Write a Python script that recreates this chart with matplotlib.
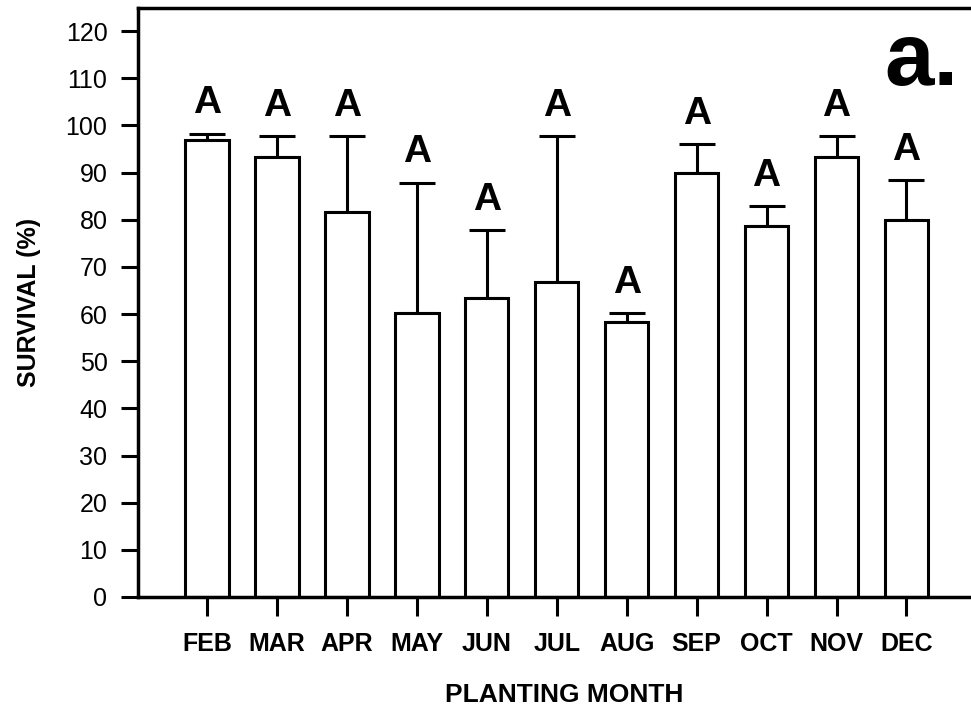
import matplotlib
matplotlib.use("Agg")
import matplotlib.pyplot as plt
import numpy as np

months = ["FEB", "MAR", "APR", "MAY", "JUN", "JUL", "AUG", "SEP", "OCT", "NOV", "DEC"]
survival = [97.0, 93.4, 81.7, 60.2, 63.4, 66.8, 58.3, 90.0, 78.6, 93.4, 79.9]
upper_err = [1.2, 4.3, 16.0, 27.6, 14.4, 30.9, 1.9, 6.0, 4.3, 4.3, 8.5]
letters = ["A"] * 11
y_ticks = list(range(0, 121, 10))

plt.rcParams['font.family'] = ['Liberation Sans', 'DejaVu Sans']

fig = plt.figure(figsize=(9.71, 7.13), dpi=100)
ax = fig.add_axes([138/971, 1-597/713, 1-138/971 + 0.02, (597-8)/713])

x = np.arange(len(months))
ax.bar(x, survival, width=0.62, color='white', edgecolor='black', linewidth=2.2, zorder=2)
ax.errorbar(x, survival, yerr=[np.zeros(len(x)), upper_err], fmt='none',
            ecolor='black', elinewidth=2.2, capsize=13, capthick=2.2, zorder=1)

for xi, s, e, lab in zip(x, survival, upper_err, letters):
    ax.annotate(lab, (xi, s + e), xytext=(0, 9), textcoords='offset points',
                ha='center', va='bottom', fontsize=28, fontweight='bold')

ax.set_xlim(-0.986, 11.2)
ax.set_ylim(0, 124.9)
ax.set_yticks(y_ticks)
ax.set_yticklabels([str(v) for v in y_ticks], fontsize=18)
ax.set_xticks(x)
ax.set_xticklabels(months, fontsize=18, fontweight='bold')

ax.tick_params(axis='y', direction='out', length=12, width=2.2, pad=10)
ax.tick_params(axis='x', direction='out', length=14, width=2.2, pad=11)
for sp in ['left', 'bottom', 'top']:
    ax.spines[sp].set_linewidth(2.5)
ax.spines['right'].set_visible(False)

ax.set_xlabel("PLANTING MONTH", fontsize=19, fontweight='bold', labelpad=20)
ax.set_ylabel("SURVIVAL (%)", fontsize=18, fontweight='bold', labelpad=18)

fig.text(958/971, 1-85/713, "a.", fontsize=64, fontweight='bold', ha='right', va='baseline')

fig.savefig("out.png", dpi=100)
